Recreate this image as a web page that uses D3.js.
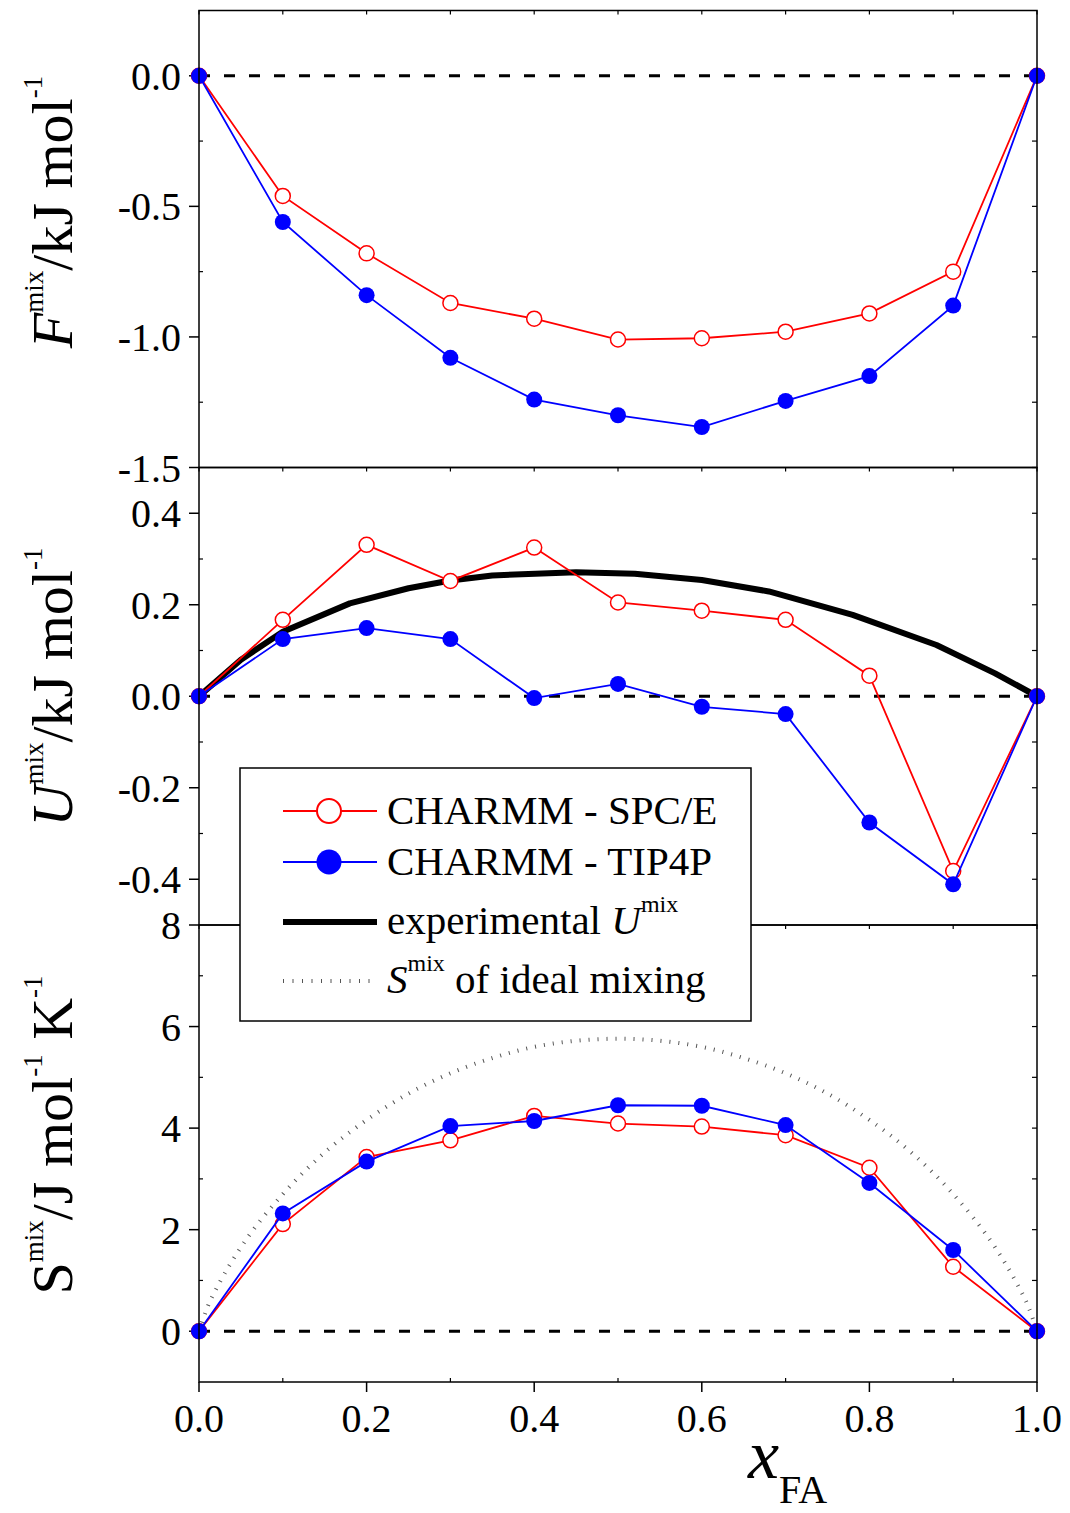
<!DOCTYPE html>
<html lang="en">
<head>
   <meta charset="UTF-8">
   <title>Mixing properties vs x_FA</title>
   <script src="https://cdn.jsdelivr.net/npm/d3@7"></script>
   <style>
      body { margin: 0; background: #fff; }
      svg { display: block; font-family: "Liberation Serif", "Times New Roman", serif; }
   </style>
</head>
<body>
   <svg width="1070" height="1513"></svg>

   <script>
       // mole fraction of formamide
       const xFA = [0, 0.1, 0.2, 0.3, 0.4, 0.5, 0.6, 0.7, 0.8, 0.9, 1.0];

       // F mix (kJ/mol)
       const fSPCE  = [0, -0.46, -0.68, -0.87, -0.93, -1.01, -1.005, -0.98, -0.91, -0.75, 0];
       const fTIP4P = [0, -0.56, -0.84, -1.08, -1.24, -1.30, -1.345, -1.245, -1.15, -0.88, 0];

       // U mix (kJ/mol)
       const uSPCE  = [0, 0.167, 0.331, 0.252, 0.325, 0.205, 0.187, 0.167, 0.045, -0.382, 0];
       const uTIP4P = [0, 0.125, 0.149, 0.125, -0.004, 0.027, -0.023, -0.039, -0.276, -0.411, 0];
       const expX = [0, 0.05, 0.1, 0.18, 0.25, 0.3, 0.35, 0.45, 0.52, 0.6, 0.68, 0.78, 0.88, 0.95, 1.0];
       const expU = [0, 0.080, 0.141, 0.203, 0.236, 0.253, 0.264, 0.271, 0.268, 0.254, 0.229, 0.178, 0.112, 0.050, 0];

       // S mix (J/mol/K)
       const sSPCE  = [0, 2.11, 3.43, 3.76, 4.24, 4.09, 4.03, 3.86, 3.22, 1.27, 0];
       const sTIP4P = [0, 2.32, 3.34, 4.04, 4.14, 4.45, 4.44, 4.06, 2.92, 1.60, 0];
       const idealX = [0, 0.01, 0.025, 0.05, 0.1, 0.15, 0.2, 0.25, 0.3, 0.35, 0.4, 0.45, 0.5,
                       0.55, 0.6, 0.65, 0.7, 0.75, 0.8, 0.85, 0.9, 0.95, 0.975, 0.99, 1.0];
       const idealS = [0, 0.47, 0.97, 1.65, 2.70, 3.52, 4.16, 4.68, 5.08, 5.38, 5.60, 5.72, 5.76,
                       5.72, 5.60, 5.38, 5.08, 4.68, 4.16, 3.52, 2.70, 1.65, 0.97, 0.47, 0];

       const xTicks = [0, 0.2, 0.4, 0.6, 0.8, 1.0];
       const xMinor = [0.1, 0.3, 0.5, 0.7, 0.9];

       const svg = d3.select('svg');
       const left = 199, right = 1037;
       const x = d3.scaleLinear().domain([0, 1]).range([left, right]);

       const panels = [
           { top: 10.5, bottom: 467.5, domain: [-1.5, 0.25], major: [0, -0.5, -1.0, -1.5], minor: [-0.25, -0.75, -1.25],
             labels: [0, -0.5, -1.0, -1.5], fmt: d3.format('.1f'), red: fSPCE, blue: fTIP4P },
           { top: 467.5, bottom: 925, domain: [-0.5, 0.5], major: [0.4, 0.2, 0, -0.2, -0.4], minor: [0.3, 0.1, -0.1, -0.3],
             labels: [0.4, 0.2, 0, -0.2, -0.4], fmt: d3.format('.1f'), red: uSPCE, blue: uTIP4P },
           { top: 925, bottom: 1382, domain: [-1, 8], major: [8, 6, 4, 2, 0], minor: [7, 5, 3, 1],
             labels: [8, 6, 4, 2, 0], fmt: d3.format('d'), red: sSPCE, blue: sTIP4P }
       ];
       panels.forEach(p => p.y = d3.scaleLinear().domain(p.domain).range([p.bottom, p.top]));

       const fmtLabel = (f, v) => f(v).replace('\u2212', '-');

       // frames + ticks
       panels.forEach((p, i) => {
           const g = svg.append('g');
           const y = p.y;

           // left ticks: major outward, minor inward
           g.selectAll('.maj').data(p.major).join('line')
               .attr('x1', left - 10).attr('x2', left).attr('y1', d => y(d)).attr('y2', d => y(d))
               .attr('stroke', 'black').attr('stroke-width', 1.5);
           g.selectAll('.min').data(p.minor).join('line')
               .attr('x1', left).attr('x2', left + 4).attr('y1', d => y(d)).attr('y2', d => y(d))
               .attr('stroke', 'black').attr('stroke-width', 1.2);
           // right ticks inward
           g.selectAll('.rt').data(p.major.concat(p.minor)).join('line')
               .attr('x1', right - 5).attr('x2', right).attr('y1', d => y(d)).attr('y2', d => y(d))
               .attr('stroke', 'black').attr('stroke-width', 1.2);
           // small ticks on top edge of each panel
           g.selectAll('.tt').data(xTicks.concat(xMinor)).join('line')
               .attr('x1', d => x(d)).attr('x2', d => x(d)).attr('y1', p.top).attr('y2', p.top + 4)
               .attr('stroke', 'black').attr('stroke-width', 1.2);

           g.selectAll('text').data(p.labels).join('text')
               .attr('x', 181).attr('y', d => y(d)).attr('dy', '0.35em')
               .attr('text-anchor', 'end').attr('font-size', 40)
               .text(d => fmtLabel(p.fmt, d));

           // dashed zero line
           g.append('line')
               .attr('x1', left).attr('x2', right).attr('y1', y(0)).attr('y2', y(0))
               .attr('stroke', 'black').attr('stroke-width', 3).attr('stroke-dasharray', '11,14');
       });

       // ideal mixing entropy (dotted)
       const p3 = panels[2];
       svg.append('path')
           .datum(idealX.map((d, i) => [d, idealS[i]]))
           .attr('fill', 'none').attr('stroke', '#555').attr('stroke-width', 4).attr('stroke-dasharray', '1,8')
           .attr('d', d3.line().x(d => x(d[0])).y(d => p3.y(d[1])).curve(d3.curveMonotoneX));

       // experimental U mix
       const p2 = panels[1];
       svg.append('path')
           .datum(expX.map((d, i) => [d, expU[i]]))
           .attr('fill', 'none').attr('stroke', 'black').attr('stroke-width', 6).attr('stroke-linejoin', 'round')
           .attr('d', d3.line().x(d => x(d[0])).y(d => p2.y(d[1])));

       // simulated series
       panels.forEach(p => {
           const line = d3.line().x((d, i) => x(xFA[i])).y(d => p.y(d));
           svg.append('path').datum(p.red)
               .attr('fill', 'none').attr('stroke', '#ff0000').attr('stroke-width', 1.8).attr('d', line);
           svg.append('g').selectAll('circle').data(p.red).join('circle')
               .attr('cx', (d, i) => x(xFA[i])).attr('cy', d => p.y(d)).attr('r', 7.5)
               .attr('fill', 'white').attr('stroke', '#ff0000').attr('stroke-width', 1.5);
           svg.append('path').datum(p.blue)
               .attr('fill', 'none').attr('stroke', '#0000ff').attr('stroke-width', 1.8).attr('d', line);
           svg.append('g').selectAll('circle').data(p.blue).join('circle')
               .attr('cx', (d, i) => x(xFA[i])).attr('cy', d => p.y(d)).attr('r', 8)
               .attr('fill', '#0000ff');
       });

       // panel frames (drawn after data so borders stay crisp)
       panels.forEach(p => {
           svg.append('rect')
               .attr('x', left).attr('y', p.top).attr('width', right - left).attr('height', p.bottom - p.top)
               .attr('fill', 'none').attr('stroke', 'black').attr('stroke-width', 1.5);
       });

       // bottom x axis
       const gx = svg.append('g');
       gx.selectAll('.maj').data(xTicks).join('line')
           .attr('x1', d => x(d)).attr('x2', d => x(d)).attr('y1', 1382).attr('y2', 1392)
           .attr('stroke', 'black').attr('stroke-width', 1.5);
       gx.selectAll('.min').data(xMinor).join('line')
           .attr('x1', d => x(d)).attr('x2', d => x(d)).attr('y1', 1378).attr('y2', 1382)
           .attr('stroke', 'black').attr('stroke-width', 1.2);
       gx.selectAll('text').data(xTicks).join('text')
           .attr('x', d => x(d)).attr('y', 1432)
           .attr('text-anchor', 'middle').attr('font-size', 40)
           .text(d => d3.format('.1f')(d));

       // x title
       const xt = svg.append('text').attr('x', 748).attr('y', 1478);
       xt.append('tspan').attr('font-style', 'italic').attr('font-size', 70).text('x');
       xt.append('tspan').attr('font-size', 40).attr('dy', 25).text('FA');

       // y titles
       const yTitles = [
           { cy: 212, parts: [['F', 58, 0, true], ['mix', 27, -29], ['/kJ mol', 58, 29], ['-1', 27, -30]] },
           { cy: 687, parts: [['U', 58, 0, true], ['mix', 27, -29], ['/kJ mol', 58, 29], ['-1', 27, -30]] },
           { cy: 1135, parts: [['S', 58, 0], ['mix', 27, -29], ['/J mol', 58, 29], ['-1', 27, -30], [' K', 58, 30], ['-1', 27, -30]] }
       ];
       yTitles.forEach(t => {
           const txt = svg.append('text')
               .attr('transform', `translate(72,${t.cy}) rotate(-90)`)
               .attr('text-anchor', 'middle');
           t.parts.forEach(([s, fs, dy, it]) => {
               const ts = txt.append('tspan').attr('font-size', fs).attr('dy', dy).text(s);
               if (it) ts.attr('font-style', 'italic');
           });
       });

       // legend
       const lg = svg.append('g');
       lg.append('rect').attr('x', 240).attr('y', 768).attr('width', 511).attr('height', 253)
           .attr('fill', 'white').attr('stroke', 'black').attr('stroke-width', 1.5);
       const rows = [811, 862, 922, 981];
       // SPC/E
       lg.append('line').attr('x1', 283).attr('x2', 377).attr('y1', rows[0]).attr('y2', rows[0])
           .attr('stroke', '#ff0000').attr('stroke-width', 1.8);
       lg.append('circle').attr('cx', 329).attr('cy', rows[0]).attr('r', 12)
           .attr('fill', 'white').attr('stroke', '#ff0000').attr('stroke-width', 2);
       // TIP4P
       lg.append('line').attr('x1', 283).attr('x2', 377).attr('y1', rows[1]).attr('y2', rows[1])
           .attr('stroke', '#0000ff').attr('stroke-width', 1.8);
       lg.append('circle').attr('cx', 329).attr('cy', rows[1]).attr('r', 12.5).attr('fill', '#0000ff');
       // experimental
       lg.append('line').attr('x1', 283).attr('x2', 377).attr('y1', rows[2]).attr('y2', rows[2])
           .attr('stroke', 'black').attr('stroke-width', 6);
       // ideal
       lg.append('line').attr('x1', 283).attr('x2', 377).attr('y1', rows[3]).attr('y2', rows[3])
           .attr('stroke', '#555').attr('stroke-width', 4).attr('stroke-dasharray', '1,8.5');

       lg.append('text').attr('x', 387).attr('y', 824).attr('font-size', 41).text('CHARMM - SPC/E');
       lg.append('text').attr('x', 387).attr('y', 875).attr('font-size', 41).text('CHARMM - TIP4P');
       const t3 = lg.append('text').attr('x', 387).attr('y', 934).attr('font-size', 41);
       t3.append('tspan').text('experimental ');
       t3.append('tspan').attr('font-style', 'italic').text('U');
       t3.append('tspan').attr('font-size', 24).attr('dy', -22).text('mix');
       const t4 = lg.append('text').attr('x', 387).attr('y', 993).attr('font-size', 41);
       t4.append('tspan').attr('font-style', 'italic').text('S');
       t4.append('tspan').attr('font-size', 24).attr('dy', -22).text('mix');
       t4.append('tspan').attr('dy', 22).text(' of ideal mixing');
   </script>
</body>
</html>
